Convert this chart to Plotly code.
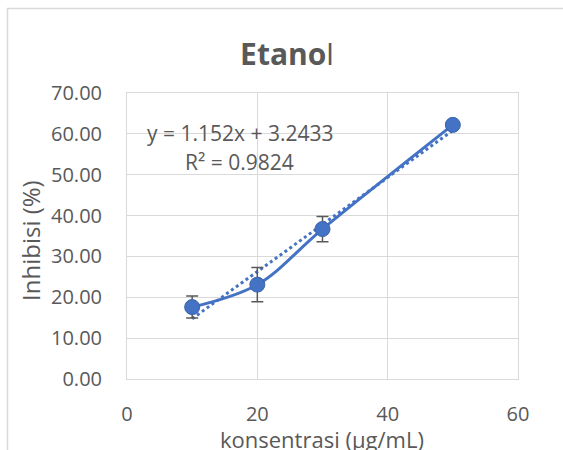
import numpy as np
import plotly.graph_objects as go

# Data
konsentrasi = [10, 20, 30, 50]
inhibisi = [17.6, 23.1, 36.7, 62.2]
error_inhibisi = [2.7, 4.2, 3.1, 0.6]
slope = 1.152
intercept = 3.2433
r_squared = 0.9824
x_ticks = [0, 20, 40, 60]
y_ticks = [0, 10, 20, 30, 40, 50, 60, 70]

BLUE = "#4472C4"
GRAY = "#595959"
GRID = "#D9D9D9"
FONT = "Open Sans"

W, H = 563, 450
L, R, T, B = 127, 45, 93, 71
PW, PH = W - L - R, H - T - B


def px_x(p):
    return (p - L) / PW


def px_y(p):
    return (H - B - p) / PH


trend_x = np.array([min(konsentrasi), max(konsentrasi)], dtype=float)
trend_y = slope * trend_x + intercept

fig = go.Figure()

fig.add_trace(go.Scatter(
    x=trend_x, y=trend_y, mode="lines",
    line=dict(color=BLUE, width=3, dash="dot"),
    hoverinfo="skip", showlegend=False,
))

fig.add_trace(go.Scatter(
    x=konsentrasi, y=inhibisi, mode="lines+markers",
    line=dict(color=BLUE, width=3, shape="spline", smoothing=1.0),
    marker=dict(symbol="circle", size=15, color=BLUE,
                line=dict(color="#3A62A8", width=1)),
    error_y=dict(type="data", array=error_inhibisi, visible=True,
                 color=GRAY, thickness=1.5, width=6),
    showlegend=False,
))

# equation annotations
fig.add_annotation(x=17.3, y=60.3, xref="x", yref="y",
                   text=f"y = {slope}x + {intercept}", showarrow=False,
                   font=dict(family=FONT, size=21, color=GRAY))
fig.add_annotation(x=17.3, y=53.2, xref="x", yref="y",
                   text=f"R² = {r_squared}", showarrow=False,
                   font=dict(family=FONT, size=21, color=GRAY))

# axis titles
fig.add_annotation(x=px_x(322), y=px_y(439), xref="paper", yref="paper",
                   text="konsentrasi (µg/mL)", showarrow=False,
                   xanchor="center", yanchor="middle",
                   font=dict(family=FONT, size=22, color=GRAY))
fig.add_annotation(x=px_x(30), y=px_y(241), xref="paper", yref="paper",
                   text="Inhibisi (%)", showarrow=False, textangle=-90,
                   xanchor="center", yanchor="middle",
                   font=dict(family=FONT, size=24, color=GRAY))

# chart border (partially cropped)
fig.add_shape(type="rect", xref="paper", yref="paper",
              x0=px_x(7.5), x1=2.0, y0=-1.0, y1=px_y(8.5),
              line=dict(color=GRID, width=1.5), fillcolor="rgba(0,0,0,0)",
              layer="below")

fig.update_layout(
    width=W, height=H,
    margin=dict(l=L, r=R, t=T, b=B, autoexpand=False),
    paper_bgcolor="white", plot_bgcolor="white",
    font=dict(family=FONT, color=GRAY),
    title=dict(text="<b>Etano</b>l", x=287 / W, xanchor="center",
               y=1 - 54 / H, yanchor="middle", yref="container",
               font=dict(family=FONT, size=30, color=GRAY)),
)

fig.update_xaxes(
    range=[0, 60], tickvals=x_ticks, ticktext=[str(v) for v in x_ticks],
    showgrid=True, gridcolor=GRID, gridwidth=1,
    showline=True, linecolor=GRID, linewidth=1, mirror=True,
    zeroline=False, ticks="", ticklabelstandoff=17, automargin=False,
    tickfont=dict(family=FONT, size=20, color=GRAY),
)
fig.update_yaxes(
    range=[0, 70], tickvals=y_ticks, ticktext=[f"{v:.2f}" for v in y_ticks],
    showgrid=True, gridcolor=GRID, gridwidth=1,
    showline=True, linecolor=GRID, linewidth=1, mirror=True,
    zeroline=False, ticks="", ticklabelstandoff=20, automargin=False,
    tickfont=dict(family=FONT, size=20, color=GRAY),
)

fig.write_html(
    "out.html",
    config={"displayModeBar": False},
    post_script="document.body.style.margin='0';document.body.style.overflow='hidden';",
)
